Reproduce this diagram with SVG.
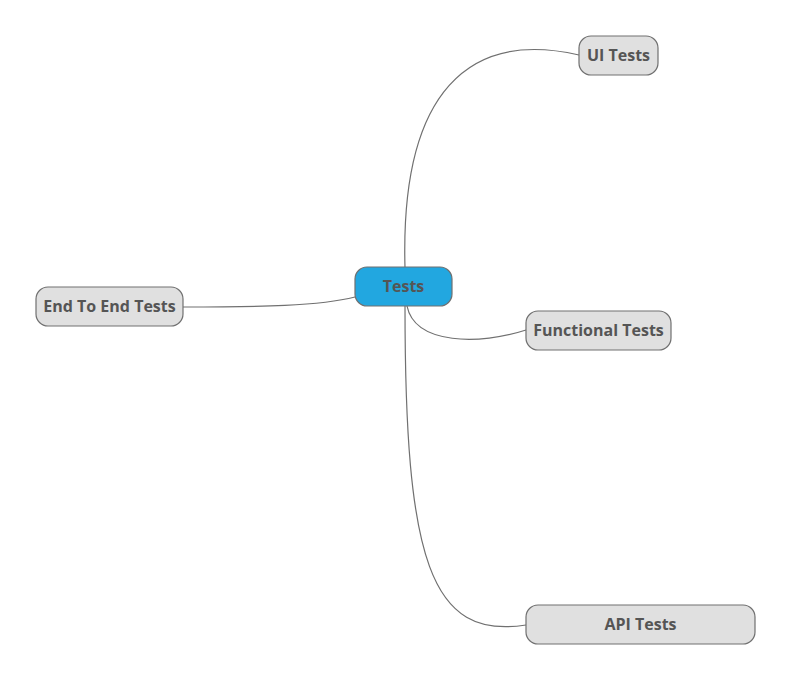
<svg xmlns="http://www.w3.org/2000/svg" width="793" height="682" viewBox="0 0 793 682">
<style>
.n rect{fill:#e0e0e0;stroke:#707070;stroke-width:1.2}
.n.c rect{fill:#22a7e0}
.n text{font-family:"Open Sans","Noto Sans",sans-serif;font-weight:bold;font-size:16px;fill:#555555;text-anchor:middle;dominant-baseline:central}
#connectors path{fill:none;stroke:#707070;stroke-width:1.2}
</style>
<rect width="793" height="682" fill="#ffffff"/>
<g id="connectors">
<path d="M405,268 C400,90 470,30 579,55"/>
<path d="M355,297 C320,306 260,307 183,307"/>
<path d="M407,306 C415,345 480,345 526,330"/>
<path d="M405,306 C405,560 430,640 526,625"/>
</g>
<g id="tests" class="n c"><rect x="355" y="267" width="97" height="39" rx="12"/><text x="403.5" y="285.5">Tests</text></g>
<g id="ui" class="n"><rect x="579" y="36" width="79" height="39" rx="12"/><text x="618.5" y="54.5">UI Tests</text></g>
<g id="e2e" class="n"><rect x="36" y="287" width="147" height="39" rx="12"/><text x="109.5" y="305.5">End To End Tests</text></g>
<g id="func" class="n"><rect x="526" y="311" width="145" height="39" rx="12"/><text x="598.5" y="329.5">Functional Tests</text></g>
<g id="api" class="n"><rect x="526" y="605" width="229" height="39" rx="12"/><text x="640.5" y="623.5">API Tests</text></g>
</svg>
